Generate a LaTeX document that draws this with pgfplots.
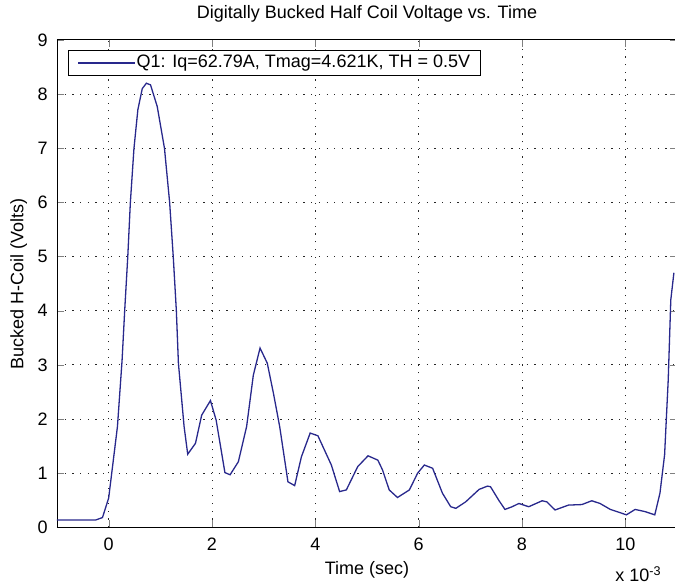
\documentclass[border=0pt]{standalone}
\usepackage{fontspec}
\setmainfont{Liberation Sans}
\usepackage{pgfplots}
\pgfplotsset{compat=1.18}
\definecolor{trace}{RGB}{40,40,140}

\begin{document}
\fontsize{18}{21}\selectfont
\begin{tikzpicture}
\begin{axis}[
    scale only axis,
    width=620pt, height=487.4pt,
    xmin=-1, xmax=11, ymin=0, ymax=9,
    xtick={0,2,...,10}, ytick={0,1,...,9},
    /pgf/number format/assume math mode=true,
    line width=0.9pt,
    major tick length=7pt,
    tick align=inside,
    grid=major,
    major grid style={black!85, line width=0.9pt, dash pattern=on 1.2pt off 6.5pt},
    clip mode=individual,
    title={Digitally Bucked Half Coil Voltage vs. Time},
    title style={at={(0.5,1)}, anchor=base, yshift=15pt},
    xlabel={Time (sec)},
    xlabel style={at={(0.5,0)}, anchor=base, yshift=-47pt},
    ylabel={Bucked H-Coil (Volts)},
    ylabel style={at={(0,0.5)}, anchor=base, yshift=33.5pt},
    yticklabel style={inner sep=0pt, anchor=east, xshift=-9pt},
    xticklabel style={inner sep=0pt, anchor=north, yshift=-10pt},
    legend style={at={(0.0177,0.9795)}, anchor=north west,
        draw=black, line width=0.9pt, fill=white,
        inner xsep=9pt, inner ysep=1pt,
        nodes={inner xsep=1pt, inner ysep=4pt}},
    legend image code/.code={\draw[#1] (0pt,0pt) -- (57pt,0pt);},
]
\addplot[trace, line width=1.3pt] coordinates {
    (-1,0.135) (-0.25,0.135) (-0.12,0.18) (0.0,0.54) (0.17,1.86) (0.26,3.09)
    (0.31,4.0) (0.37,5.0) (0.42,6.0) (0.49,7.0) (0.565,7.71) (0.65,8.1)
    (0.73,8.2) (0.81,8.17) (0.94,7.77) (1.08,7.0) (1.18,6.0) (1.25,5.0)
    (1.31,4.0) (1.35,3.03) (1.46,1.86) (1.53,1.35) (1.68,1.55) (1.80,2.07)
    (1.97,2.34) (2.08,1.98) (2.25,1.01) (2.35,0.97) (2.51,1.21) (2.67,1.86)
    (2.80,2.81) (2.93,3.31) (3.07,3.03) (3.19,2.47) (3.31,1.86) (3.47,0.84)
    (3.60,0.77) (3.73,1.30) (3.90,1.74) (4.05,1.69) (4.31,1.15) (4.47,0.66)
    (4.60,0.69) (4.82,1.12) (5.02,1.32) (5.21,1.24) (5.30,1.06) (5.43,0.69)
    (5.59,0.55) (5.82,0.69) (5.98,1.0) (6.11,1.15) (6.27,1.09) (6.46,0.63)
    (6.62,0.38) (6.72,0.35) (6.91,0.47) (7.17,0.70) (7.33,0.76) (7.39,0.75)
    (7.55,0.50) (7.67,0.33) (7.81,0.38) (7.94,0.44) (8.13,0.38) (8.39,0.49)
    (8.48,0.47) (8.64,0.32) (8.90,0.41) (9.16,0.42) (9.35,0.49) (9.51,0.44)
    (9.71,0.33) (9.93,0.26) (10.02,0.23) (10.19,0.33) (10.38,0.29) (10.57,0.23)
    (10.67,0.63) (10.76,1.34) (10.83,2.72) (10.88,4.2) (10.94,4.7)
};
\addlegendentry{Q1: Iq=62.79A, Tmag=4.621K, TH = 0.5V}
\node[anchor=base east, inner sep=0pt] at (axis cs:10.7,-1.01) {x 10\textsuperscript{-3}};
\end{axis}
\pgfresetboundingbox
\path (-57pt,-58.7pt) rectangle (618pt,527.3pt);
\end{tikzpicture}
\end{document}
